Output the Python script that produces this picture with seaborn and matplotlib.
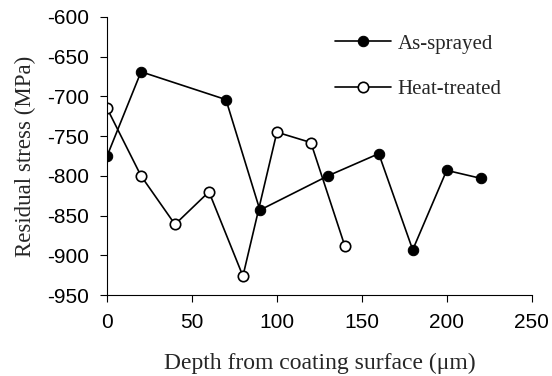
import matplotlib
matplotlib.use("Agg")
import matplotlib.pyplot as plt
import seaborn as sns
import pandas as pd

depth_as = [0, 20, 70, 90, 130, 160, 180, 200, 220]
stress_as = [-775, -669, -704, -843, -800, -772, -893, -793, -803]
depth_ht = [0, 20, 40, 60, 80, 100, 120, 140]
stress_ht = [-715, -800, -861, -820, -926, -745, -758, -888]
x_ticks = [0, 50, 100, 150, 200, 250]
y_ticks = [-950, -900, -850, -800, -750, -700, -650, -600]

sns.set_style("ticks")
plt.rcParams['font.family'] = ['Liberation Sans', 'DejaVu Sans']
plt.rcParams['axes.unicode_minus'] = False

fig = plt.figure(figsize=(5.52, 3.76), dpi=100)
ax = fig.add_axes([0.194, 0.215, 0.769, 0.740])

df_as = pd.DataFrame({"depth": depth_as, "stress": stress_as})
df_ht = pd.DataFrame({"depth": depth_ht, "stress": stress_ht})

sns.lineplot(data=df_as, x="depth", y="stress", ax=ax, color="black", lw=1.2,
             marker="o", markersize=7.5, markerfacecolor="black",
             markeredgecolor="black", label="As-sprayed", sort=False)
sns.lineplot(data=df_ht, x="depth", y="stress", ax=ax, color="black", lw=1.2,
             marker="o", markersize=7.5, markerfacecolor="white",
             markeredgecolor="black", markeredgewidth=1.2,
             label="Heat-treated", sort=False)

ax.set_xlim(0, 250)
ax.set_ylim(-950, -600)
ax.set_xticks(x_ticks)
ax.set_yticks(y_ticks)
ax.tick_params(labelsize=15, direction="out", length=5, width=0.8,
               colors="black")
ax.tick_params(axis="y", pad=8)
ax.tick_params(axis="x", pad=8)
for s in ["top", "right"]:
    ax.spines[s].set_visible(False)
for s in ["left", "bottom"]:
    ax.spines[s].set_color("black")
    ax.spines[s].set_linewidth(0.8)

serif = ['Liberation Serif', 'DejaVu Serif']
ax.set_xlabel("Depth from coating surface (μm)", fontsize=17, family=serif, labelpad=15)
ax.set_ylabel("Residual stress (MPa)", fontsize=16.5, family=serif, labelpad=8)

leg = ax.legend(loc="upper left", bbox_to_anchor=(335 / 552, 1 - 34 / 376),
                bbox_transform=fig.transFigure, frameon=False,
                prop={'family': serif, 'size': 15}, labelspacing=1.25,
                handlelength=2.7, handletextpad=0.3, borderpad=0,
                borderaxespad=0, markerscale=1.0)

fig.savefig("out.png", dpi=100)
